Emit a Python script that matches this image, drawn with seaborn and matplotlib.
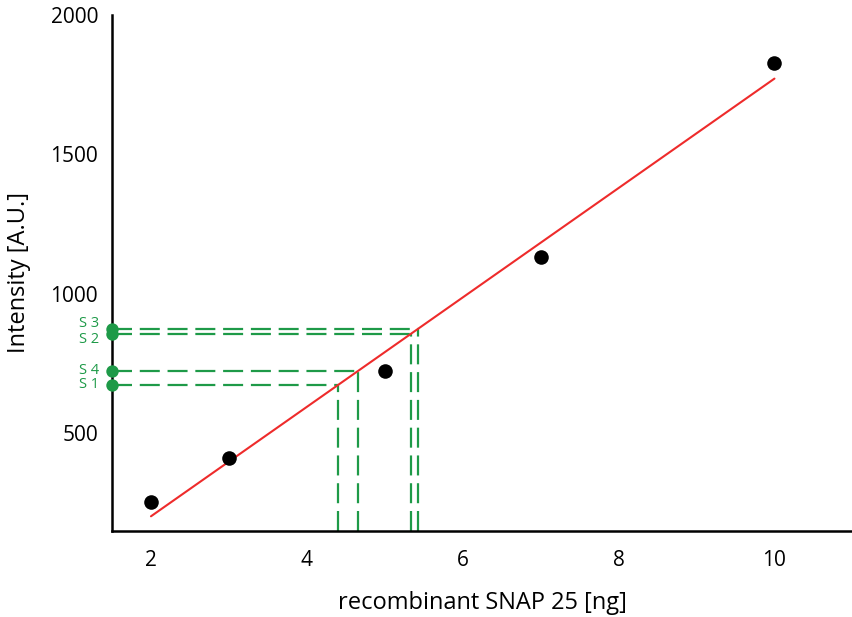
import numpy as np
import pandas as pd
import matplotlib
matplotlib.use("Agg")
import matplotlib.pyplot as plt
import seaborn as sns

# Standard curve: recombinant SNAP 25 amount vs. measured intensity
amount_ng = [2, 3, 5, 7, 10]
intensity = [255, 410, 722, 1133, 1828]

# Unknown samples
sample_names = ["S 1", "S 2", "S 3", "S 4"]
sample_intensity = [674, 857, 875, 724]

x_ticks = [2, 4, 6, 8, 10]
y_ticks = [500, 1000, 1500, 2000]

sns.set_theme(style="white")
plt.rcParams["font.family"] = ["Open Sans", "DejaVu Sans"]

GREEN = "#1e9a48"
RED = "#ee2b2b"

# vertical nudges (points) so the close S 2 / S 3 labels don't collide
label_nudge = {"S 2": -4, "S 3": 4}

std = pd.DataFrame({"amount": amount_ng, "intensity": intensity})

fig = plt.figure(figsize=(8.53, 6.17), dpi=100)
ax = fig.add_axes([0.1313, 0.1394, 0.868, 0.8363])

xmin, xmax = 1.5, 11.0
ymin, ymax = 150, 2000

# Linear fit of the standards
slope, intercept = np.polyfit(amount_ng, intensity, 1)

sns.regplot(data=std, x="amount", y="intensity", ci=None, ax=ax,
            scatter_kws=dict(color="black", s=110, alpha=1, zorder=4, linewidths=0),
            line_kws=dict(color=RED, lw=1.5, zorder=3))

# Sample read-out lines: horizontal to the fit, then down to the x axis
for name, yv in zip(sample_names, sample_intensity):
    xv = (yv - intercept) / slope
    ax.plot([xmin, xv], [yv, yv], color=GREEN, lw=1.6, dashes=(9, 3.5), zorder=2)
    ax.plot([xv, xv], [ymin, yv], color=GREEN, lw=1.6, dashes=(9, 3.5), zorder=2)
    ax.scatter([xmin], [yv], color=GREEN, s=80, zorder=5, clip_on=False, linewidths=0)
    ax.annotate(name, xy=(xmin, yv), xytext=(-9, label_nudge.get(name, 0)),
                textcoords="offset points",
                ha="right", va="center", color=GREEN, fontsize=10.5,
                annotation_clip=False)

ax.set_xlim(xmin, xmax)
ax.set_ylim(ymin, ymax)
ax.set_xticks(x_ticks)
ax.set_xticklabels([str(t) for t in x_ticks])
ax.set_yticks(y_ticks)
ax.set_yticklabels([str(t) for t in y_ticks])

for side in ["top", "right"]:
    ax.spines[side].set_visible(False)
for side in ["left", "bottom"]:
    ax.spines[side].set_color("black")
    ax.spines[side].set_linewidth(1.8)

ax.tick_params(axis="both", direction="out", length=6, width=1.5,
               colors="black", labelsize=15, pad=4)
ax.tick_params(axis="x", pad=8)
ax.set_xlabel("recombinant SNAP 25 [ng]", fontsize=17, labelpad=14, color="black")
ax.set_ylabel("Intensity [A.U.]", fontsize=17, labelpad=14, color="black")

fig.savefig("out.png", dpi=100)
